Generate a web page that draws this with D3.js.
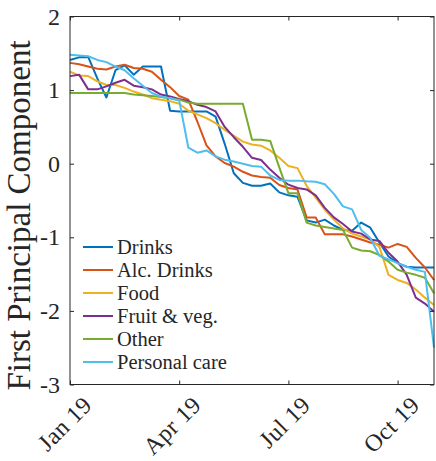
<!DOCTYPE html>
<html>
<head>
<meta charset="utf-8">
<script src="https://cdn.jsdelivr.net/npm/d3@7"></script>
<style>
  body { margin: 0; background: #fff; }
  text { font-family: "Liberation Serif", "Times New Roman", serif; fill: #262626; }
</style>
</head>
<body>
<svg id="chart" width="436" height="461"></svg>
<script>
// Weekly first principal component per product group (41 weeks, Jan–Oct 2019)
const seriesNames = ["Drinks", "Alc. Drinks", "Food", "Fruit & veg.", "Other", "Personal care"];
const drinks = [1.41, 1.445, 1.45, 1.16, 0.90, 1.27, 1.336, 1.21, 1.32, 1.32, 1.32, 0.72, 0.71, 0.71, 0.71, 0.71, 0.64, 0.27, -0.13, -0.26,
  -0.30, -0.30, -0.27, -0.39, -0.43, -0.45, -0.77, -0.80, -0.76, -0.84, -0.90, -0.91, -0.80, -0.87, -1.07, -1.26, -1.35, -1.40, -1.41, -1.41, -1.41];
const alcDrinks = [1.37, 1.35, 1.32, 1.29, 1.28, 1.32, 1.345, 1.30, 1.29, 1.25, 1.14, 1.04, 0.92, 0.87, 0.57, 0.25, 0.10, 0.01, -0.04, -0.11,
  -0.16, -0.18, -0.19, -0.29, -0.33, -0.35, -0.73, -0.73, -0.96, -0.96, -0.96, -0.99, -1.03, -1.07, -1.10, -1.14, -1.09, -1.13, -1.28, -1.41, -1.58];
const food = [1.25, 1.20, 1.19, 1.12, 1.07, 1.07, 1.03, 0.98, 0.94, 0.89, 0.87, 0.85, 0.815, 0.72, 0.67, 0.62, 0.55, 0.46, 0.38, 0.30,
  0.26, 0.245, 0.18, 0.08, -0.03, -0.06, -0.30, -0.46, -0.625, -0.76, -0.88, -0.95, -0.99, -1.03, -1.13, -1.51, -1.58, -1.62, -1.71, -1.82, -1.92];
const fruitVeg = [1.19, 1.21, 1.01, 1.01, 1.05, 1.10, 1.14, 1.06, 1.04, 1.01, 0.94, 0.915, 0.88, 0.85, 0.80, 0.77, 0.71, 0.50, 0.36, 0.23,
  0.08, 0.05, -0.08, -0.19, -0.285, -0.33, -0.35, -0.43, -0.60, -0.73, -0.82, -0.92, -0.95, -1.03, -1.05, -1.21, -1.33, -1.51, -1.82, -1.90, -2.01];
const other = [0.96, 0.96, 0.96, 0.96, 0.96, 0.96, 0.96, 0.94, 0.93, 0.92, 0.905, 0.89, 0.87, 0.83, 0.815, 0.815, 0.815, 0.815, 0.815, 0.815,
  0.325, 0.325, 0.31, -0.05, -0.40, -0.40, -0.80, -0.84, -0.86, -0.88, -0.90, -1.14, -1.18, -1.19, -1.24, -1.33, -1.44, -1.48, -1.51, -1.55, -1.76];
const personalCare = [1.48, 1.47, 1.46, 1.41, 1.38, 1.32, 1.27, 1.16, 1.06, 0.96, 0.91, 0.89, 0.86, 0.22, 0.15, 0.18, 0.10, 0.055, 0.03, 0.0,
  -0.03, -0.04, -0.16, -0.22, -0.23, -0.23, -0.24, -0.245, -0.28, -0.41, -0.58, -0.62, -0.90, -1.01, -1.25, -1.30, -1.35, -1.40, -1.44, -1.47, -2.50];

const tickWeeks = [0, 12, 24, 36];
const tickLabels = ["Jan 19", "Apr 19", "Jul 19", "Oct 19"];
const yTicks = [-3, -2, -1, 0, 1, 2];
const colors = ["#0072BD", "#D95319", "#EDB120", "#7E2F8E", "#77AC30", "#4DBEEE"];

const series = [drinks, alcDrinks, food, fruitVeg, other, personalCare];

const svg = d3.select("#chart");
const plotLeft = 70, plotRight = 434, plotTop = 16.5, plotBottom = 384.5;
const serif = "'Liberation Serif', 'Times New Roman', serif";

const x = d3.scaleLinear().domain([0, 40]).range([plotLeft, plotRight]);
const y = d3.scaleLinear().domain([-3, 2]).range([plotBottom, plotTop]);

const axisColor = "#262626";

// Lines
const line = d3.line().x((d, i) => x(i)).y(d => y(d));
svg.append("g").selectAll("path")
  .data(series)
  .join("path")
  .attr("d", line)
  .attr("fill", "none")
  .attr("stroke", (d, i) => colors[i])
  .attr("stroke-width", 2)
  .attr("stroke-linejoin", "round");

// Box
svg.append("rect")
  .attr("x", plotLeft).attr("y", plotTop)
  .attr("width", plotRight - plotLeft).attr("height", plotBottom - plotTop)
  .attr("fill", "none").attr("stroke", axisColor).attr("stroke-width", 1);

// Bottom axis with rotated month labels
const xAxis = d3.axisBottom(x).tickValues(tickWeeks)
  .tickFormat((d, i) => tickLabels[i]).tickSizeInner(-4).tickSizeOuter(0);
const gx = svg.append("g").attr("transform", `translate(0,${plotBottom})`).call(xAxis);
gx.select(".domain").remove();
gx.selectAll("line").attr("stroke", axisColor);
gx.selectAll("text")
  .attr("x", 0).attr("y", 0).attr("dy", "0.35em")
  .attr("text-anchor", "end")
  .attr("transform", "translate(17,16) rotate(-45)")
  .style("font-size", "24px")
  .style("letter-spacing", "0.5px")
  .style("font-family", serif)
  .attr("fill", axisColor);

// Top axis (ticks only)
const gxt = svg.append("g").attr("transform", `translate(0,${plotTop})`)
  .call(d3.axisTop(x).tickValues(tickWeeks).tickFormat("").tickSizeInner(-4).tickSizeOuter(0));
gxt.select(".domain").remove();
gxt.selectAll("line").attr("stroke", axisColor);

// Left axis
const yAxis = d3.axisLeft(y).tickValues(yTicks).tickFormat(d3.format("d"))
  .tickSizeInner(-4).tickSizeOuter(0).tickPadding(10);
const gy = svg.append("g").attr("transform", `translate(${plotLeft},0)`).call(yAxis);
gy.select(".domain").remove();
gy.selectAll("line").attr("stroke", axisColor);
gy.selectAll("text")
  .text(d => String(d))
  .style("font-size", "24px")
  .style("font-family", serif)
  .attr("fill", axisColor);

// Right axis (ticks only)
const gyr = svg.append("g").attr("transform", `translate(${plotRight},0)`)
  .call(d3.axisRight(y).tickValues(yTicks).tickFormat("").tickSizeInner(-4).tickSizeOuter(0));
gyr.select(".domain").remove();
gyr.selectAll("line").attr("stroke", axisColor);

// Y label
svg.append("text")
  .attr("transform", `translate(30,${(plotTop + plotBottom) / 2 + 15}) rotate(-90)`)
  .attr("text-anchor", "middle")
  .style("font-size", "33px")
  .style("font-family", serif)
  .text("First Principal Component");

// Legend
const legend = svg.append("g").attr("transform", "translate(83,247)");
const rows = legend.selectAll("g").data(seriesNames).join("g")
  .attr("transform", (d, i) => `translate(0,${i * 23})`);
rows.append("line")
  .attr("x1", 0).attr("x2", 30).attr("y1", 0).attr("y2", 0)
  .attr("stroke", (d, i) => colors[i]).attr("stroke-width", 2);
rows.append("text")
  .attr("x", 34).attr("y", 0).attr("dy", "0.33em")
  .style("font-size", "20.5px")
  .style("font-family", serif)
  .text(d => d);
</script>
</body>
</html>
